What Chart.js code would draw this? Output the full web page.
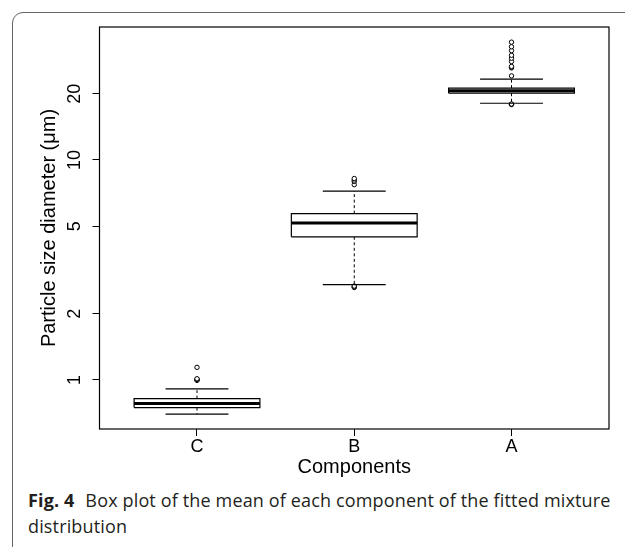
<!DOCTYPE html>
<html>
<head>
<meta charset="utf-8">
<script src="https://cdn.jsdelivr.net/npm/chart.js@4"></script>
<style>
    html, body { margin: 0; padding: 0; background: #fff; }
    body { width: 625px; height: 547px; position: relative; overflow: hidden; }
    .card {
        position: absolute; left: 12px; top: 12px; width: 700px; height: 600px;
        border: 1.5px solid #666; border-radius: 11px; box-sizing: border-box;
    }
    #chart { position: absolute; left: 0; top: 0; }
    .caption {
        position: absolute; left: 28px; top: 487px; width: 592px;
        font-family: "Open Sans", sans-serif; font-size: 18px; line-height: 26px;
        color: #231f20; letter-spacing: 0.15px;
    }
    .caption b { font-weight: 700; margin-right: 6px; }
</style>
</head>
<body>
<div class="card"></div>
<canvas id="chart" width="625" height="480"></canvas>
<div class="caption"><b>Fig. 4</b> Box plot of the mean of each component of the fitted mixture distribution</div>

<script>
// Box plot values (log scale)
const categories = ['C', 'B', 'A'];
const lowerWhisker = [0.699, 2.71, 18.1];
const q1 = [0.748, 4.47, 20.1];
const median = [0.780, 5.16, 20.65];
const q3 = [0.822, 5.70, 21.2];
const upperWhisker = [0.910, 7.21, 23.3];
const outliers = [
    [0.995, 1.0, 1.005, 1.012, 1.14],
    [2.63, 2.65, 2.67, 7.72, 7.98, 8.10, 8.23],
    [17.85, 17.9, 17.95, 24.1, 26.2, 26.4, 26.6, 28.0, 29.0, 29.9, 31.4, 32.7, 34.3]
];
const yTicks = [1, 2, 5, 10, 20];

const BOX_HALF = 0.4;
const CAP_HALF = 0.2;
const FONT = '"Liberation Sans", Arial, sans-serif';

// build line segments, separated by null gaps
const boxPts = [], medPts = [], whiskPts = [], capPts = [], outPts = [];
categories.forEach((c, i) => {
    const x = i + 1;
    boxPts.push({x: x - BOX_HALF, y: q1[i]}, {x: x + BOX_HALF, y: q1[i]},
                {x: x + BOX_HALF, y: q3[i]}, {x: x - BOX_HALF, y: q3[i]},
                {x: x - BOX_HALF, y: q1[i]}, {x: x, y: null});
    medPts.push({x: x - BOX_HALF, y: median[i]}, {x: x + BOX_HALF, y: median[i]}, {x: x, y: null});
    whiskPts.push({x: x, y: q3[i]}, {x: x, y: upperWhisker[i]}, {x: x, y: null},
                  {x: x, y: q1[i]}, {x: x, y: lowerWhisker[i]}, {x: x, y: null});
    capPts.push({x: x - CAP_HALF, y: upperWhisker[i]}, {x: x + CAP_HALF, y: upperWhisker[i]}, {x: x, y: null},
                {x: x - CAP_HALF, y: lowerWhisker[i]}, {x: x + CAP_HALF, y: lowerWhisker[i]}, {x: x, y: null});
    outliers[i].forEach(v => outPts.push({x: x, y: v}));
});

const lineDefaults = { borderColor: '#000', pointRadius: 0, spanGaps: false, fill: false, tension: 0 };

// frame round the plot area, as R draws it
const framePlugin = {
    id: 'frame',
    afterDraw(chart) {
        const {ctx, chartArea: a} = chart;
        ctx.save();
        ctx.strokeStyle = '#000';
        ctx.lineWidth = 1.2;
        ctx.strokeRect(a.left, a.top, a.right - a.left, a.bottom - a.top);
        ctx.restore();
    }
};

new Chart(document.getElementById('chart'), {
    type: 'line',
    data: {
        datasets: [
            { ...lineDefaults, data: whiskPts, borderWidth: 1, borderDash: [3, 2.5] },
            { ...lineDefaults, data: capPts, borderWidth: 1.2 },
            { ...lineDefaults, data: boxPts, borderWidth: 1.2 },
            { ...lineDefaults, data: medPts, borderWidth: 3 },
            {
                data: outPts, showLine: false, pointRadius: 2.2, pointBorderWidth: 1,
                pointBackgroundColor: '#fff', pointBorderColor: '#000', borderColor: '#000'
            }
        ]
    },
    options: {
        responsive: false,
        animation: false,
        events: [],
        layout: { padding: { top: 27, right: 16, bottom: 1, left: 0 } },
        plugins: { legend: { display: false }, tooltip: { enabled: false } },
        scales: {
            x: {
                type: 'linear', min: 0.38, max: 3.62,
                afterBuildTicks: (s) => { s.ticks = categories.map((c, i) => ({value: i + 1})); },
                afterFit: (s) => { s.height = 50; },
                ticks: {
                    autoSkip: false, maxRotation: 0, padding: 0, color: '#000',
                    font: { family: FONT, size: 18 },
                    callback: (v) => categories[v - 1]
                },
                grid: { drawOnChartArea: false, tickLength: 7, color: '#000' },
                border: { display: false },
                title: {
                    display: true, text: 'Components', color: '#000',
                    font: { family: FONT, size: 20 }, padding: { top: 0, bottom: 0 }
                }
            },
            y: {
                type: 'logarithmic', min: 0.598, max: 40.2,
                afterBuildTicks: (s) => { s.ticks = yTicks.map(v => ({value: v})); },
                afterFit: (s) => { s.width = 99.5; },
                ticks: {
                    minRotation: 90, maxRotation: 90, crossAlign: 'center', padding: 7.5,
                    color: '#000', font: { family: FONT, size: 18 },
                    callback: (v) => String(v)
                },
                grid: { drawOnChartArea: false, tickLength: 7, color: '#000' },
                border: { display: false },
                title: {
                    display: true, text: 'Particle size diameter (\u03bcm)', color: '#000',
                    font: { family: FONT, size: 20 }, padding: { top: 37, bottom: 0 }
                }
            }
        }
    },
    plugins: [framePlugin]
});
</script>
</body>
</html>
